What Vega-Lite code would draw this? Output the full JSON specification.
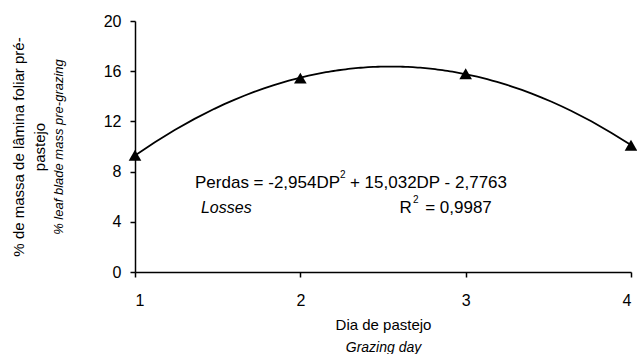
{
  "$schema": "https://vega.github.io/schema/vega-lite/v6.json",
  "width": 496,
  "height": 251,
  "autosize": {"type": "none"},
  "padding": {"left": 135, "top": 21, "right": 6, "bottom": 82},
  "background": "white",
  "config": {
    "view": {"stroke": null},
    "font": "Liberation Sans",
    "text": {"font": "Liberation Sans", "color": "black", "align": "left", "baseline": "alphabetic"},
    "axis": {
      "grid": false,
      "domainColor": "black",
      "domainWidth": 1.5,
      "tickColor": "black",
      "tickWidth": 1.5,
      "tickSize": 5,
      "labelColor": "black",
      "labelFont": "Liberation Sans",
      "labelFontSize": 16,
      "titleColor": "black",
      "titleFont": "Liberation Sans",
      "titleFontWeight": "normal",
      "titleFontSize": 15
    }
  },
  "datasets": {
    "obs": [
      {"DP": 1, "Perdas": 9.3},
      {"DP": 2, "Perdas": 15.45},
      {"DP": 3, "Perdas": 15.8},
      {"DP": 4, "Perdas": 10.1}
    ]
  },
  "layer": [
    {
      "data": {"name": "obs"},
      "transform": [
        {"regression": "Perdas", "on": "DP", "method": "poly", "order": 2, "extent": [1, 4]}
      ],
      "mark": {"type": "line", "color": "black", "strokeWidth": 1.8},
      "encoding": {
        "x": {
          "field": "DP", "type": "quantitative",
          "scale": {"domain": [1, 4], "nice": false, "zero": false},
          "axis": {"orient": "bottom", "labels": false, "ticks": false, "domain": false,
                   "title": "Grazing day", "titleFontStyle": "italic", "titleFontSize": 14, "titlePadding": 68}
        },
        "y": {
          "field": "Perdas", "type": "quantitative",
          "scale": {"domain": [0, 20], "nice": false},
          "axis": {"orient": "left", "labels": false, "ticks": false, "domain": false,
                   "title": ["% de massa de lâmina foliar pré-", "pastejo"], "titleLineHeight": 21, "titlePadding": 88}
        }
      }
    },
    {
      "data": {"name": "obs"},
      "mark": {"type": "point", "shape": "triangle-up", "filled": true, "color": "black", "size": 160, "opacity": 1},
      "encoding": {
        "x": {
          "field": "DP", "type": "quantitative",
          "axis": {"orient": "bottom", "values": [1, 2, 3, 4], "format": "d", "labelPadding": 15,
                   "title": "Dia de pastejo", "titlePadding": 9}
        },
        "y": {
          "field": "Perdas", "type": "quantitative",
          "axis": {"orient": "left", "values": [0, 4, 8, 12, 16, 20], "labelPadding": 9,
                   "title": "% leaf blade mass pre-grazing", "titleFontStyle": "italic", "titleFontSize": 13, "titlePadding": 38}
        }
      }
    },
    {
      "data": {"values": [{}]},
      "mark": {"type": "text", "fontSize": 17, "text": "Perdas = -2,954DP"},
      "encoding": {
        "x": {"datum": 1.363, "type": "quantitative", "axis": null},
        "y": {"datum": 6.69, "type": "quantitative", "axis": null}
      }
    },
    {
      "data": {"values": [{}]},
      "mark": {"type": "text", "fontSize": 10, "text": "2"},
      "encoding": {
        "x": {"datum": 2.24, "type": "quantitative", "axis": null},
        "y": {"datum": 7.49, "type": "quantitative", "axis": null}
      }
    },
    {
      "data": {"values": [{}]},
      "mark": {"type": "text", "fontSize": 17, "text": "+ 15,032DP - 2,7763"},
      "encoding": {
        "x": {"datum": 2.3, "type": "quantitative", "axis": null},
        "y": {"datum": 6.69, "type": "quantitative", "axis": null}
      }
    },
    {
      "data": {"values": [{}]},
      "mark": {"type": "text", "fontSize": 16, "fontStyle": "italic", "text": "Losses"},
      "encoding": {
        "x": {"datum": 1.399, "type": "quantitative", "axis": null},
        "y": {"datum": 4.7, "type": "quantitative", "axis": null}
      }
    },
    {
      "data": {"values": [{}]},
      "mark": {"type": "text", "fontSize": 17, "text": "R"},
      "encoding": {
        "x": {"datum": 2.6, "type": "quantitative", "axis": null},
        "y": {"datum": 4.7, "type": "quantitative", "axis": null}
      }
    },
    {
      "data": {"values": [{}]},
      "mark": {"type": "text", "fontSize": 10, "text": "2"},
      "encoding": {
        "x": {"datum": 2.681, "type": "quantitative", "axis": null},
        "y": {"datum": 5.5, "type": "quantitative", "axis": null}
      }
    },
    {
      "data": {"values": [{}]},
      "mark": {"type": "text", "fontSize": 17, "text": "= 0,9987"},
      "encoding": {
        "x": {"datum": 2.755, "type": "quantitative", "axis": null},
        "y": {"datum": 4.7, "type": "quantitative", "axis": null}
      }
    }
  ],
  "resolve": {"axis": {"x": "independent", "y": "independent"}}
}
